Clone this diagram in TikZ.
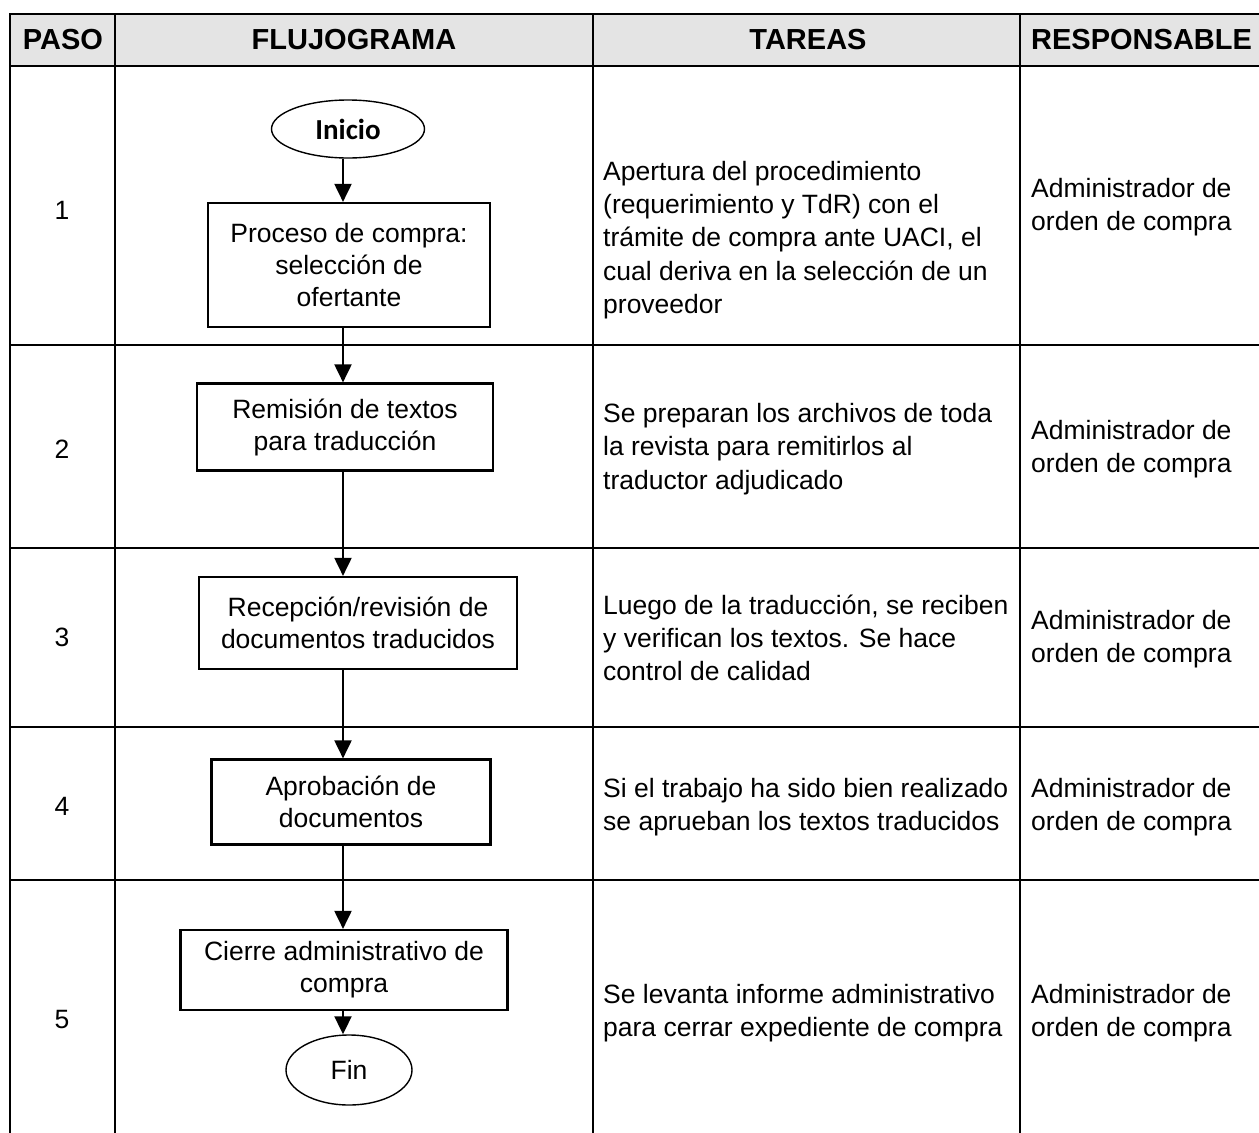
\documentclass[tikz,border=0pt]{standalone}
\usepackage{fontspec}
\setmainfont{Liberation Sans}
\newfontfamily\calfont{Carlito}
\usetikzlibrary{positioning, shapes.geometric, arrows.meta, calc}
\definecolor{headgray}{HTML}{E4E4E4}

\begin{document}
\begin{tikzpicture}[x=1pt, y=-1pt,
  font=\fontsize{26.5}{32}\selectfont,
  grid/.style={line width=1.4pt},
  head/.style={font=\fontsize{29}{32}\selectfont\bfseries},
  box/.style={draw, line width=2.2pt, align=center, inner sep=0pt},
  term/.style={draw, ellipse, line width=1.4pt, inner sep=0pt},
  txt/.style={align=left, anchor=west, inner sep=0pt, font=\fontsize{26.5}{33.3}\selectfont},
  arr/.style={-{Triangle[length=18pt, width=17pt]}, line width=2pt}]
\useasboundingbox (0,0) rectangle (1259,1133);

% table
\fill[headgray] (10,14) rectangle (1259,66);
\draw[grid] (1259,14) -- (10,14) -- (10,1133);
\foreach \cx in {115,593,1020}
  {\draw[grid] (\cx,14) -- (\cx,1133);}
\foreach \ry in {66,345,548,727,880}
  {\draw[grid] (10,\ry) -- (1259,\ry);}

\node[head] (hpaso) at (63,40) {PASO};
\node[head] (hflujo) at (354,40) {FLUJOGRAMA};
\node[head] (htareas) at (808,40) {TAREAS};
\node[head, anchor=west, inner sep=0pt] (hresp) at (1031,40) {RESPONSABLE};

\foreach \n/\yy in {1/210, 2/449, 3/637, 4/806, 5/1020}
  {\node (paso\n) at (62,\yy) {\n};}

% flujograma
\node[term, minimum width=153, minimum height=58, font=\calfont\bfseries\fontsize{29}{32}\selectfont] (ini) at (348,129) {Inicio};
\node[box, minimum width=282, minimum height=124] (compra) at (349,265) {Proceso de compra:\\selección de\\ofertante};
\node[box, minimum width=296, minimum height=87] (remision) at (345,427) {Remisión de textos\\para traducción};
\node[box, minimum width=318, minimum height=92] (recepcion) at (358,623) {Recepción/revisión de\\documentos traducidos};
\node[box, minimum width=279, minimum height=85] (aprob) at (351,802) {Aprobación de\\documentos};
\node[box, minimum width=327, minimum height=80] (cierre) at (344,970) {Cierre administrativo de\\compra};
\node[term, minimum width=126, minimum height=70] (fin) at (349,1070) {Fin};

\coordinate (spine) at (343,0);
\foreach \frm/\tto in {ini/compra, compra/remision, remision/recepcion, recepcion/aprob, aprob/cierre, cierre/fin}
  {\draw[arr] (spine |- \frm.south) -- (spine |- \tto.north);}

% tareas
\node[txt] (tarea1) at (603,240) {Apertura del procedimiento\\(requerimiento y TdR) con el\\trámite de compra ante UACI, el\\cual deriva en la selección de un\\proveedor};
\node[txt] (tarea2) at (603,449) {Se preparan los archivos de toda\\la revista para remitirlos al\\traductor adjudicado};
\node[txt] (tarea3) at (603,638) {Luego de la traducción, se reciben\\y verifican los textos. Se hace\\control de calidad};
\node[txt] (tarea4) at (603,807) {Si el trabajo ha sido bien realizado\\se aprueban los textos traducidos};
\node[txt] (tarea5) at (603,1013) {Se levanta informe administrativo\\para cerrar expediente de compra};

% responsable
\foreach \n/\yy in {1/207, 2/449, 3/639, 4/807, 5/1013}
  {\node[txt] (resp\n) at (1031,\yy) {Administrador de\\orden de compra};}

\end{tikzpicture}
\end{document}
